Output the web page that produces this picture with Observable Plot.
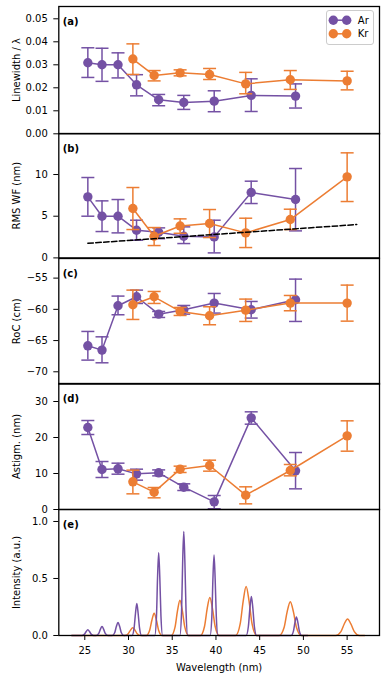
<!DOCTYPE html>
<html><head><meta charset="utf-8">
<script src="https://cdn.jsdelivr.net/npm/d3@7"></script>
<script src="https://cdn.jsdelivr.net/npm/@observablehq/plot@0.6"></script>
<style>
html,body{margin:0;padding:0;background:#fff;}
#chart{position:relative;width:382px;height:676px;font-family:"DejaVu Sans",sans-serif;}
#chart svg{position:absolute;left:0;overflow:visible;}
</style></head><body><div id="chart"></div>
<script>
// ---------- data ----------
const seriesNames = ["Ar", "Kr"];
const arWl = [25.35, 26.97, 28.8, 30.92, 33.45, 36.32, 39.8, 44.03, 49.1];
const krWl = [30.5, 32.93, 35.9, 39.27, 43.4, 48.5, 55.0];

// (a) linewidth / lambda
const arLw   = [0.0309, 0.0300, 0.0300, 0.0213, 0.0148, 0.0136, 0.0142, 0.0167, 0.0164];
const arLwLo = [0.0245, 0.0228, 0.0243, 0.0165, 0.0122, 0.0106, 0.0096, 0.0097, 0.0112];
const arLwHi = [0.0374, 0.0372, 0.0352, 0.0257, 0.0171, 0.0167, 0.0187, 0.0239, 0.0217];
const krLw   = [0.0325, 0.0254, 0.0265, 0.0258, 0.0217, 0.0235, 0.0230];
const krLwLo = [0.0258, 0.0230, 0.0252, 0.0236, 0.0174, 0.0193, 0.0191];
const krLwHi = [0.0391, 0.0275, 0.0278, 0.0284, 0.0267, 0.0275, 0.0272];

// (b) RMS wavefront (nm)
const arRms   = [7.32, 5.0, 5.0, 3.32, 3.08, 2.6, 2.52, 7.84, 7.0];
const arRmsLo = [5.0, 3.16, 3.0, 2.12, 2.3, 1.72, 0.6, 6.52, 3.24];
const arRmsHi = [9.64, 6.84, 7.0, 4.52, 3.6, 3.72, 4.52, 9.2, 10.72];
const krRms   = [5.92, 2.6, 3.82, 4.12, 3.0, 4.6, 9.72];
const krRmsLo = [3.4, 1.48, 2.95, 2.44, 1.24, 3.4, 6.76];
const krRmsHi = [8.44, 3.64, 4.68, 5.8, 4.76, 5.84, 12.6];
const dashX = [25.35, 56.1];
const dashY = [1.75, 4.0];

// (c) RoC (cm)
const arRoc   = [-65.84, -66.53, -59.43, -57.99, -60.77, -60.07, -59.0, -60.07, -58.47];
const arRocLo = [-68.13, -68.56, -60.87, -59.06, -61.3, -60.77, -60.6, -61.4, -61.94];
const arRocHi = [-63.54, -64.4, -57.88, -56.92, -60.34, -59.38, -57.46, -58.74, -55.16];
const krRoc   = [-59.27, -57.99, -60.34, -61.03, -60.13, -59.0, -59.0];
const krRocLo = [-61.62, -59.06, -60.98, -62.47, -61.94, -60.23, -61.89];
const krRocHi = [-56.92, -57.14, -59.7, -59.59, -58.36, -57.78, -56.12];

// (d) Astigmatism (nm)
const arAst   = [22.78, 11.11, 11.3, 9.9, 10.19, 6.2, 2.13, 25.46, 10.74];
const arAstLo = [20.83, 8.89, 9.81, 8.15, 9.35, 5.28, 0.2, 23.7, 5.74];
const arAstHi = [24.72, 13.33, 12.87, 11.2, 11.0, 7.13, 3.89, 27.13, 15.83];
const krAst   = [7.69, 4.81, 11.2, 12.22, 3.98, 10.83, 20.46];
const krAstLo = [4.35, 3.24, 10.28, 10.65, 1.57, 9.35, 16.2];
const krAstHi = [10.93, 6.11, 12.04, 13.7, 6.3, 12.5, 24.63];

// (e) spectra
const arSpecX = [23.5,
 24.69, 24.98, 25.16, 25.35, 25.54, 25.72, 26.01,
 26.31, 26.60, 26.78, 26.97, 27.16, 27.34, 27.63,
 28.14, 28.43, 28.61, 28.80, 28.99, 29.17, 29.46,
 30.41, 30.64, 30.80, 30.95, 31.10, 31.26, 31.49,
 33.00, 33.20, 33.32, 33.45, 33.58, 33.71, 33.90,
 35.87, 36.07, 36.19, 36.32, 36.45, 36.58, 36.77,
 39.33, 39.53, 39.65, 39.78, 39.91, 40.04, 40.23,
 43.45, 43.71, 43.88, 44.05, 44.22, 44.39, 44.65,
 48.60, 48.86, 49.03, 49.20, 49.37, 49.54, 49.80,
 50.5];
const arSpecY = [0,
 0, 0.012, 0.035, 0.050, 0.035, 0.012, 0,
 0, 0.018, 0.054, 0.078, 0.054, 0.018, 0,
 0, 0.027, 0.079, 0.114, 0.079, 0.027, 0,
 0, 0.066, 0.195, 0.280, 0.195, 0.066, 0,
 0, 0.171, 0.506, 0.726, 0.506, 0.171, 0,
 0, 0.215, 0.636, 0.912, 0.636, 0.215, 0,
 0, 0.166, 0.491, 0.705, 0.491, 0.166, 0,
 0, 0.081, 0.238, 0.342, 0.238, 0.081, 0,
 0, 0.038, 0.113, 0.162, 0.113, 0.038, 0,
 0];
const krSpecX = [23.5,
 29.58, 29.97, 30.23, 30.48, 30.74, 30.99, 31.38,
 32.03, 32.42, 32.68, 32.93, 33.19, 33.44, 33.83,
 34.89, 35.32, 35.60, 35.88, 36.16, 36.44, 36.87,
 38.22, 38.69, 38.99, 39.30, 39.61, 39.91, 40.38,
 42.25, 42.77, 43.11, 43.45, 43.79, 44.13, 44.65,
 47.24, 47.79, 48.14, 48.50, 48.86, 49.21, 49.76,
 53.70, 54.29, 54.67, 55.05, 55.43, 55.82, 56.40,
 57.0];
const krSpecY = [0,
 0, 0.016, 0.047, 0.068, 0.047, 0.016, 0,
 0, 0.046, 0.136, 0.195, 0.136, 0.046, 0,
 0, 0.073, 0.216, 0.310, 0.216, 0.073, 0,
 0, 0.079, 0.232, 0.333, 0.232, 0.079, 0,
 0, 0.101, 0.300, 0.430, 0.300, 0.101, 0,
 0, 0.070, 0.207, 0.297, 0.207, 0.070, 0,
 0, 0.034, 0.101, 0.145, 0.101, 0.034, 0,
 0];

// ticks
const xTicks = [25, 30, 35, 40, 45, 50, 55];
const aTicks = [0, 0.01, 0.02, 0.03, 0.04, 0.05];
const bTicks = [0, 5, 10];
const cTicks = [-70, -65, -60, -55];
const dTicks = [0, 10, 20, 30];
const eTicks = [0, 0.5, 1.0];

// ---------- styling ----------
const AR = "#7451a4", KR = "#ec7d33";
const W = 382, ML = 58.3, MR = 3, PAD = 14;
const xDomain = [22.03, 58.7];
const capSymbol = {draw(ctx) { ctx.moveTo(-6.5, 0); ctx.lineTo(6.5, 0); }};

function series(xs, ys, lo, hi, color) {
  const d = xs.map((x, i) => ({x, y: ys[i], lo: lo[i], hi: hi[i]}));
  return [
    Plot.ruleX(d, {x: "x", y1: "lo", y2: "hi", stroke: color, strokeWidth: 1.5}),
    Plot.dot(d, {x: "x", y: "lo", symbol: capSymbol, r: 5, fill: "none", stroke: color, strokeWidth: 1.5}),
    Plot.dot(d, {x: "x", y: "hi", symbol: capSymbol, r: 5, fill: "none", stroke: color, strokeWidth: 1.5}),
    Plot.line(d, {x: "x", y: "y", stroke: color, strokeWidth: 1.5}),
    Plot.dot(d, {x: "x", y: "y", fill: color, r: 4.7})
  ];
}

const chart = document.getElementById("chart");

function panel({top, bottom, yDomain, yTicks, yFmt, yLabel, tag, marks, last}) {
  const frameH = bottom - top;
  const mt = PAD, mb = last ? 676 - bottom : PAD;
  const svg = Plot.plot({
    width: W, height: frameH + mt + mb,
    marginLeft: ML, marginRight: MR, marginTop: mt, marginBottom: mb,
    style: {fontFamily: "'DejaVu Sans', sans-serif", fontSize: "10px", color: "black", background: "transparent", overflow: "visible"},
    x: {domain: xDomain, axis: last ? undefined : null},
    y: {domain: yDomain},
    marks: [
      ...marks,
      Plot.axisY(yTicks, {tickFormat: d3.format(yFmt), tickSize: 5, tickPadding: 6, label: yLabel,
        labelAnchor: "center", labelOffset: 46, labelArrow: false, fontSize: 10}),
      last ? Plot.axisX(xTicks, {tickSize: 5, tickPadding: 6.5, tickFormat: d3.format("d"), label: "Wavelength (nm)",
        labelAnchor: "center", labelOffset: 36, labelArrow: false, fontSize: 10}) : null,
      Plot.frame({stroke: "black", strokeWidth: 1.3}),
      Plot.text([tag], {text: d => d, frameAnchor: "top-left", textAnchor: "start", lineAnchor: "middle",
        dx: 4, dy: 15, fontWeight: "bold", fontSize: 10})
    ]
  });
  svg.style.top = (top - mt) + "px";
  chart.appendChild(svg);
}

panel({top: 6, bottom: 133.3, yDomain: [0, 0.05535], yTicks: aTicks, yFmt: ".2f", yLabel: "Linewidth / λ", tag: "(a)",
  marks: [...series(arWl, arLw, arLwLo, arLwHi, AR), ...series(krWl, krLw, krLwLo, krLwHi, KR)]});
panel({top: 133.3, bottom: 257.7, yDomain: [0, 14.92], yTicks: bTicks, yFmt: "d", yLabel: "RMS WF (nm)", tag: "(b)",
  marks: [...series(arWl, arRms, arRmsLo, arRmsHi, AR), ...series(krWl, krRms, krRmsLo, krRmsHi, KR),
    Plot.line(dashX.map((x, i) => ({x, y: dashY[i]})), {x: "x", y: "y", stroke: "black", strokeWidth: 1.5, strokeDasharray: "5.5,2.4"})]});
panel({top: 257.7, bottom: 383.3, yDomain: [-71.97, -51.86], yTicks: cTicks, yFmt: "d", yLabel: "RoC (cm)", tag: "(c)",
  marks: [...series(arWl, arRoc, arRocLo, arRocHi, AR), ...series(krWl, krRoc, krRocLo, krRocHi, KR)]});
panel({top: 383.3, bottom: 509.3, yDomain: [0, 35.0], yTicks: dTicks, yFmt: "d", yLabel: "Astigm. (nm)", tag: "(d)",
  marks: [...series(arWl, arAst, arAstLo, arAstHi, AR), ...series(krWl, krAst, krAstLo, krAstHi, KR)]});
panel({top: 509.3, bottom: 635.3, yDomain: [0, 1.105], yTicks: eTicks, yFmt: ".1f", yLabel: "Intensity (a.u.)", tag: "(e)", last: true,
  marks: [
    Plot.line(krSpecX.map((x, i) => ({x, y: krSpecY[i]})), {x: "x", y: "y", stroke: KR, strokeWidth: 1.5, curve: "monotone-x"}),
    Plot.line(arSpecX.map((x, i) => ({x, y: arSpecY[i]})), {x: "x", y: "y", stroke: AR, strokeWidth: 1.5, curve: "monotone-x"})
  ]});

// legend (panel a, upper right)
const ns = "http://www.w3.org/2000/svg";
const leg = document.createElementNS(ns, "svg");
leg.setAttribute("width", 382); leg.setAttribute("height", 60);
leg.style.top = "0px";
const colors = [AR, KR];
let html = `<rect x="326.5" y="10.5" width="47" height="34" rx="2.5" fill="white" fill-opacity="0.8" stroke="#cccccc" stroke-width="1"/>`;
seriesNames.forEach((name, i) => {
  const y = 20.2 + i * 13.6;
  html += `<line x1="333.3" x2="346.7" y1="${y}" y2="${y}" stroke="${colors[i]}" stroke-width="1.5"/>`;
  html += `<circle cx="333.3" cy="${y}" r="4.7" fill="${colors[i]}"/><circle cx="346.7" cy="${y}" r="4.7" fill="${colors[i]}"/>`;
  html += `<text x="357.8" y="${y + 3.6}" font-size="10" font-family="DejaVu Sans, sans-serif" fill="black">${name}</text>`;
});
leg.innerHTML = html;
chart.appendChild(leg);
</script></body></html>
